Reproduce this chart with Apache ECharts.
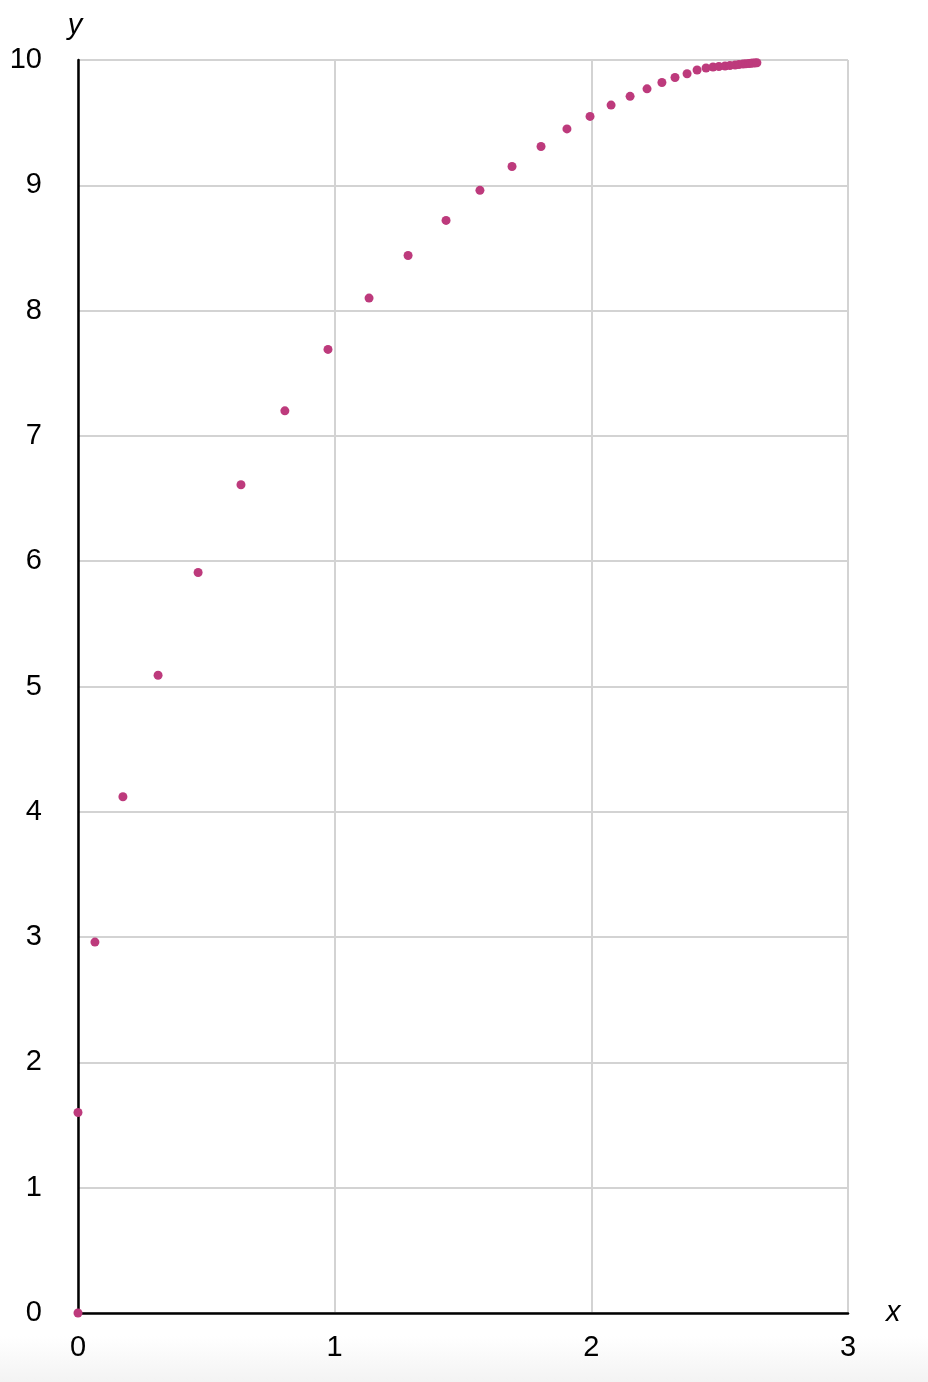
<!DOCTYPE html>
<html>
<head>
<meta charset="utf-8">
<script src="https://cdn.jsdelivr.net/npm/echarts@6/dist/echarts.min.js"></script>
<style>
  html, body { margin: 0; padding: 0; background: #fff; }
  #main { width: 928px; height: 1382px; }
</style>
</head>
<body>
<div id="main"></div>
<script>
var xValues = [
  0, 0, 0.066, 0.175, 0.312, 0.468, 0.635, 0.806, 0.974, 1.134,
  1.286, 1.434, 1.566, 1.691, 1.804, 1.905, 1.995, 2.077, 2.151, 2.217,
  2.275, 2.326, 2.373, 2.412, 2.447, 2.474, 2.497, 2.521, 2.540, 2.560,
  2.575, 2.591, 2.602, 2.614, 2.622, 2.630, 2.638, 2.645
];
var yValues = [
  0, 1.60, 2.96, 4.12, 5.09, 5.91, 6.61, 7.20, 7.69, 8.10,
  8.44, 8.72, 8.96, 9.15, 9.31, 9.45, 9.55, 9.64, 9.71, 9.77,
  9.82, 9.86, 9.89, 9.92, 9.936, 9.944, 9.948, 9.952, 9.956, 9.960,
  9.964, 9.968, 9.970, 9.972, 9.974, 9.976, 9.977, 9.978
];

var points = xValues.map(function (x, i) {
  return [x, yValues[i]];
});

var chartDom = document.getElementById('main');
var myChart = echarts.init(chartDom);
var font = 'Liberation Sans, Arial, Helvetica, sans-serif';

var option = {
  animation: false,
  backgroundColor: '#fff',
  graphic: [
    {
      type: 'rect',
      left: 0,
      top: 1336,
      z: -10,
      silent: true,
      shape: { width: 928, height: 46 },
      style: {
        fill: {
          type: 'linear', x: 0, y: 0, x2: 0, y2: 1,
          colorStops: [
            { offset: 0, color: '#ffffff' },
            { offset: 1, color: '#f3f3f3' }
          ]
        }
      }
    }
  ],
  grid: {
    left: 78,
    right: 80,
    top: 60,
    bottom: 69
  },
  xAxis: {
    type: 'value',
    min: 0,
    max: 3,
    interval: 1,
    name: 'x',
    nameLocation: 'end',
    nameGap: 38,
    nameTextStyle: {
      fontFamily: font,
      fontStyle: 'italic',
      fontSize: 29,
      color: '#000',
      verticalAlign: 'middle',
      padding: [4, 0, 0, 0]
    },
    axisLine: { onZero: false, lineStyle: { color: '#000', width: 2.5 } },
    axisTick: { show: false },
    axisLabel: {
      margin: 20,
      fontFamily: font,
      fontSize: 29,
      color: '#000'
    },
    splitLine: { show: true, lineStyle: { color: '#d3d3d3', width: 2 } }
  },
  yAxis: {
    type: 'value',
    min: 0,
    max: 10,
    interval: 1,
    name: 'y',
    nameLocation: 'end',
    nameGap: 20,
    nameTextStyle: {
      fontFamily: font,
      fontStyle: 'italic',
      fontSize: 29,
      color: '#000',
      align: 'center',
      padding: [0, 6, 0, 0]
    },
    axisLine: { onZero: false, lineStyle: { color: '#000', width: 2.5 } },
    axisTick: { show: false },
    axisLabel: {
      margin: 36,
      fontFamily: font,
      fontSize: 29,
      color: '#000',
      padding: [7, 0, 0, 0]
    },
    splitLine: { show: true, lineStyle: { color: '#d3d3d3', width: 2 } }
  },
  series: [
    {
      type: 'scatter',
      symbol: 'circle',
      symbolSize: 9,
      itemStyle: { color: '#bd3a7c', opacity: 1 },
      data: points
    }
  ]
};

myChart.setOption(option);
</script>
</body>
</html>
